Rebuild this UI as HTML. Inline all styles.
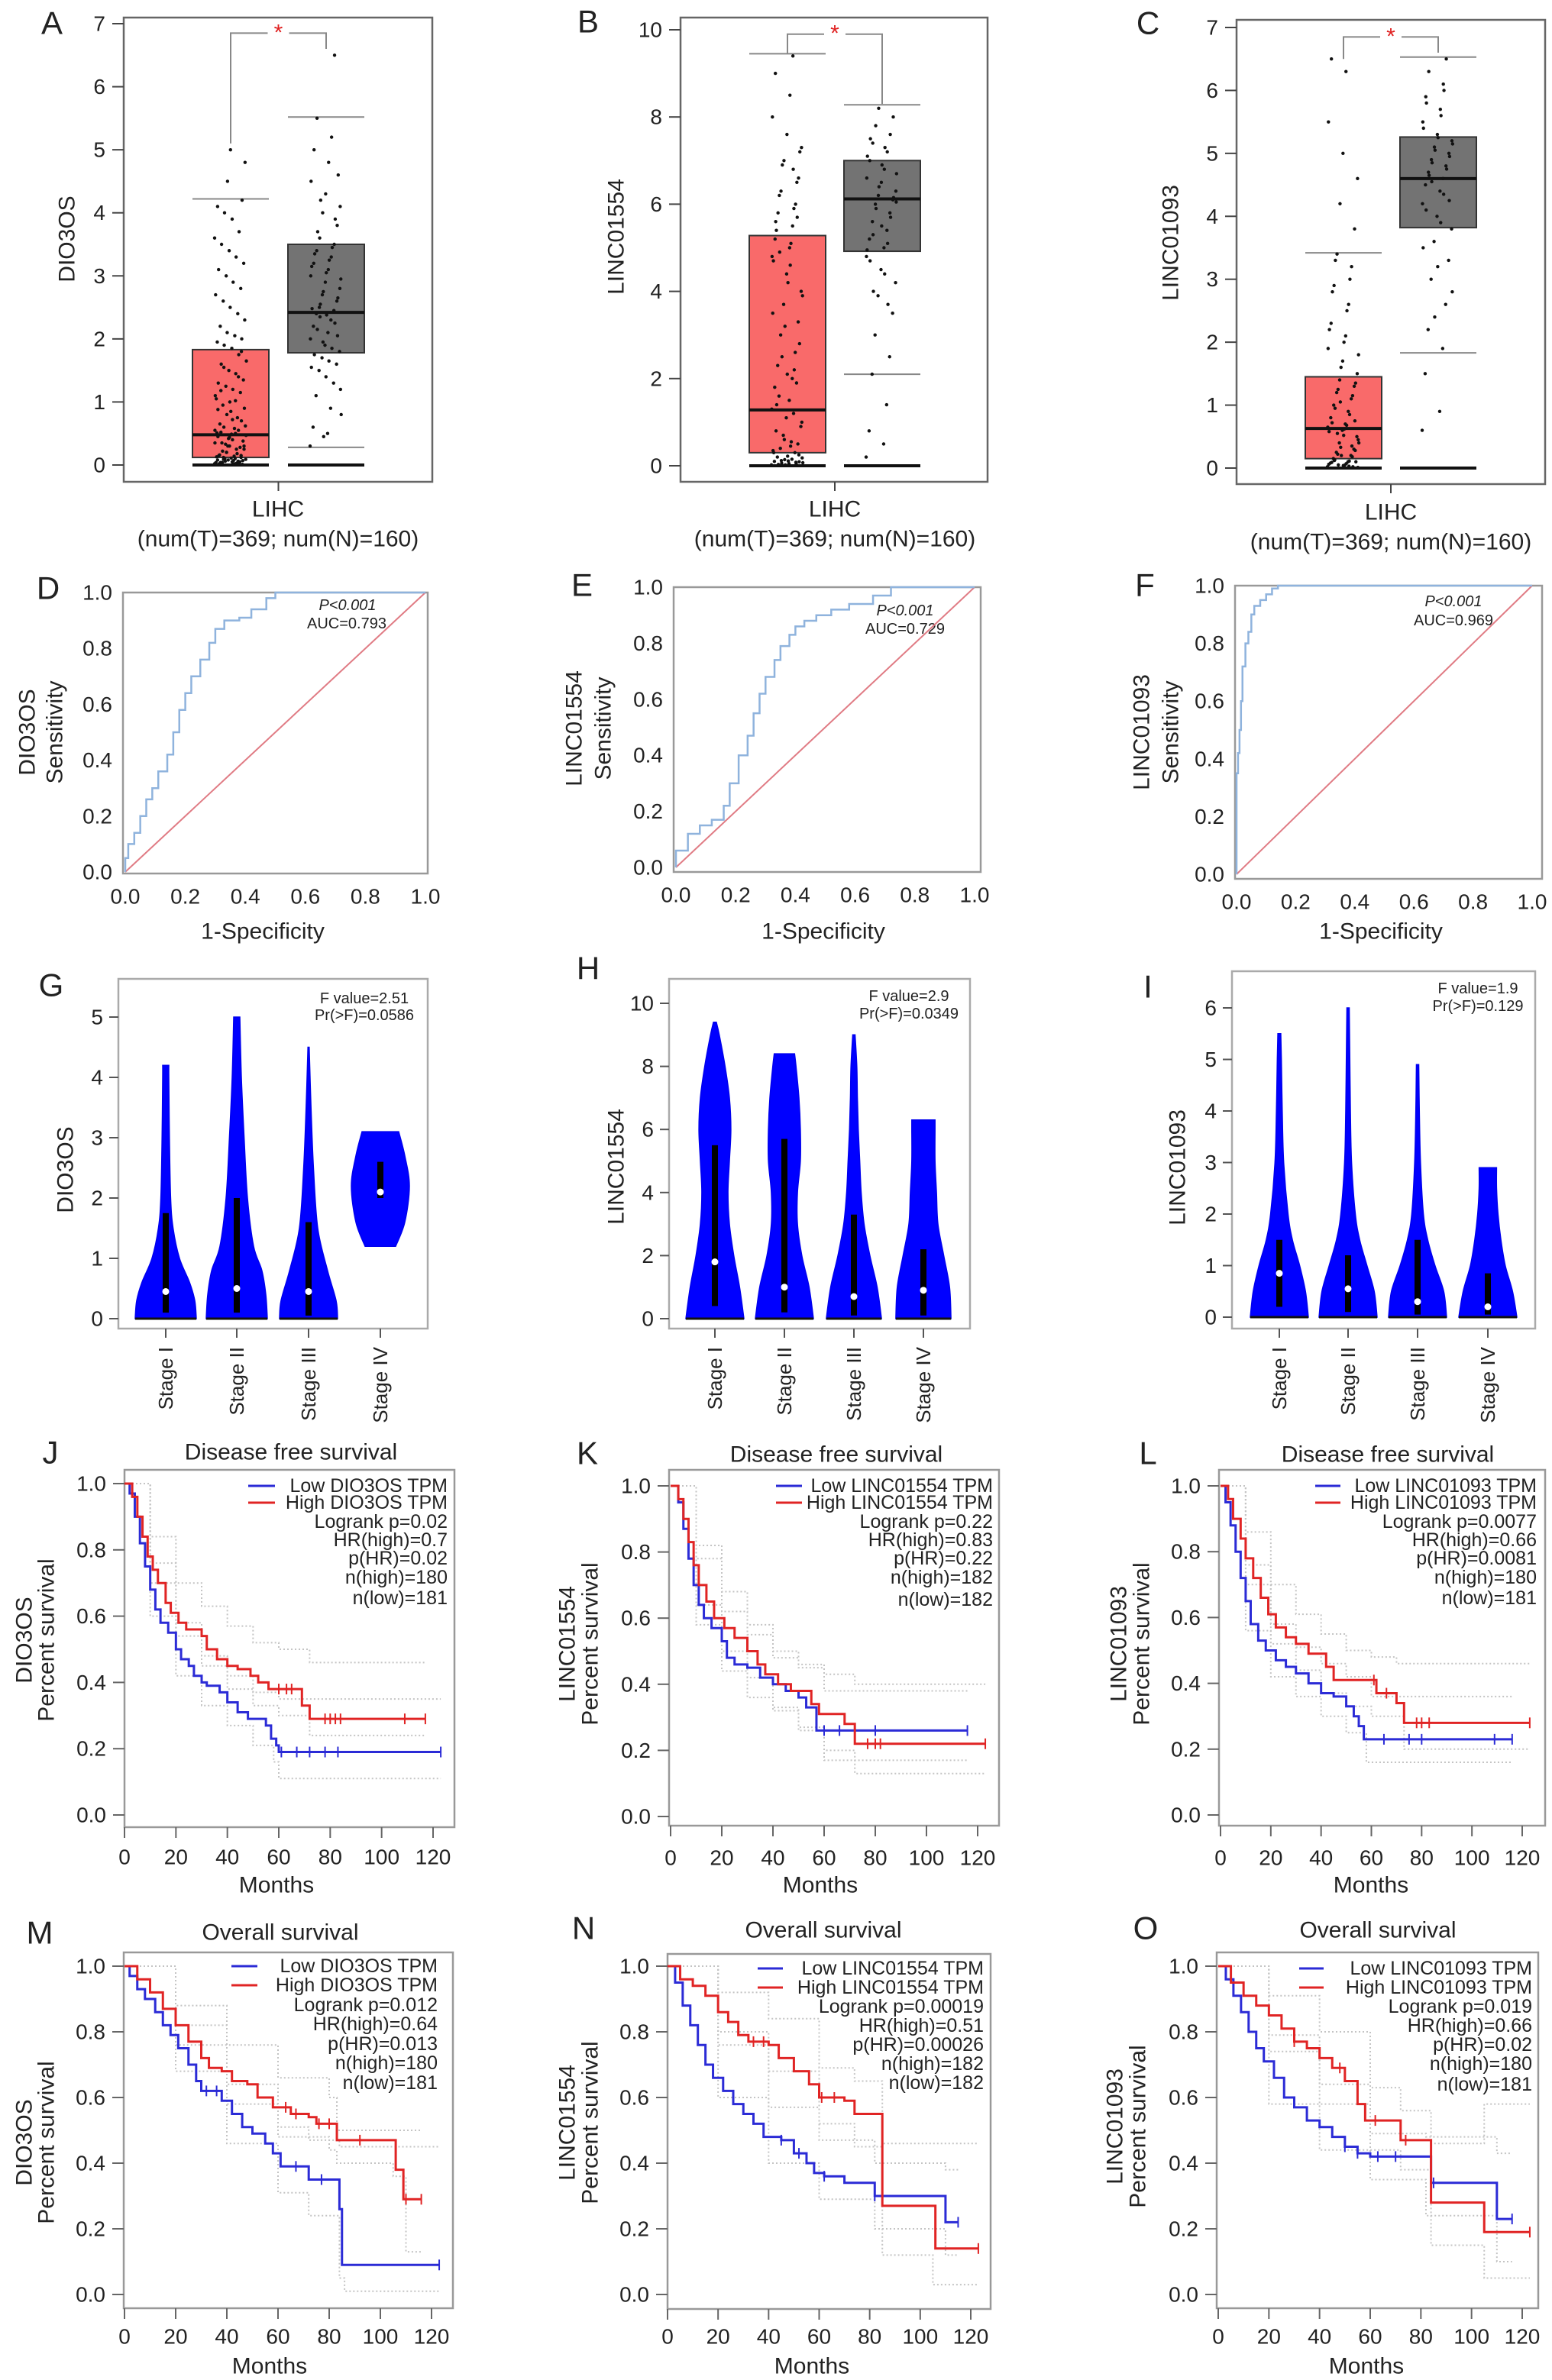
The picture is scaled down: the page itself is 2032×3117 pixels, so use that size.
<!DOCTYPE html>
<html><head><meta charset="utf-8"><title>Expression, ROC, stage and survival figure</title>
<style>
html,body{margin:0;padding:0;background:#fff;}
svg{display:block;font-family:"Liberation Sans",Arial,sans-serif;}
text{fill:#222;}
</style></head>
<body>
<svg id="fig" xmlns="http://www.w3.org/2000/svg" width="2032" height="3117" viewBox="0 0 2032 3117">
<rect x="0" y="0" width="2032" height="3117" fill="#fff"/>
<g font-size="42" text-anchor="middle" dominant-baseline="central">
<text x="68" y="30">A</text>
<text x="770" y="28">B</text>
<text x="1503" y="30">C</text>
<text x="63" y="770">D</text>
<text x="762" y="766">E</text>
<text x="1499" y="766">F</text>
<text x="67" y="1290">G</text>
<text x="770" y="1268">H</text>
<text x="1503" y="1292">I</text>
<text x="66" y="1902">J</text>
<text x="769" y="1903">K</text>
<text x="1503" y="1903">L</text>
<text x="52" y="2531">M</text>
<text x="764" y="2525">N</text>
<text x="1500" y="2525">O</text>
</g>
<g font-size="30" text-anchor="middle" dominant-baseline="central">
<text transform="translate(88,313) rotate(-90)">DIO3OS</text>
<text transform="translate(807,310) rotate(-90)">LINC01554</text>
<text transform="translate(1533,318) rotate(-90)">LINC01093</text>
<text x="364" y="667">LIHC</text>
<text x="364" y="706">(num(T)=369; num(N)=160)</text>
<text x="1093" y="667">LIHC</text>
<text x="1093" y="706">(num(T)=369; num(N)=160)</text>
<text x="1821" y="671">LIHC</text>
<text x="1821" y="710">(num(T)=369; num(N)=160)</text>
<text transform="translate(36,959) rotate(-90)">DIO3OS</text>
<text transform="translate(72,959) rotate(-90)">Sensitivity</text>
<text transform="translate(752,954) rotate(-90)">LINC01554</text>
<text transform="translate(790,954) rotate(-90)">Sensitivity</text>
<text transform="translate(1495,959) rotate(-90)">LINC01093</text>
<text transform="translate(1533,959) rotate(-90)">Sensitivity</text>
<text x="344" y="1220">1-Specificity</text>
<text x="1078" y="1220">1-Specificity</text>
<text x="1808" y="1220">1-Specificity</text>
<text transform="translate(86,1532) rotate(-90)">DIO3OS</text>
<text transform="translate(807,1528) rotate(-90)">LINC01554</text>
<text transform="translate(1542,1529) rotate(-90)">LINC01093</text>
<text x="381" y="1902">Disease free survival</text>
<text x="1095" y="1905">Disease free survival</text>
<text x="1817" y="1905">Disease free survival</text>
<text x="367" y="2531">Overall survival</text>
<text x="1078" y="2528">Overall survival</text>
<text x="1804" y="2528">Overall survival</text>
<text x="362" y="2469">Months</text>
<text x="1074" y="2469">Months</text>
<text x="1795" y="2469">Months</text>
<text x="353" y="3099">Months</text>
<text x="1063" y="3099">Months</text>
<text x="1789" y="3099">Months</text>
<text transform="translate(32,2148) rotate(-90)">DIO3OS</text>
<text transform="translate(61,2148) rotate(-90)">Percent survival</text>
<text transform="translate(743,2153) rotate(-90)">LINC01554</text>
<text transform="translate(773,2153) rotate(-90)">Percent survival</text>
<text transform="translate(1465,2153) rotate(-90)">LINC01093</text>
<text transform="translate(1495,2153) rotate(-90)">Percent survival</text>
<text transform="translate(32,2806) rotate(-90)">DIO3OS</text>
<text transform="translate(61,2806) rotate(-90)">Percent survival</text>
<text transform="translate(743,2780) rotate(-90)">LINC01554</text>
<text transform="translate(773,2780) rotate(-90)">Percent survival</text>
<text transform="translate(1460,2785) rotate(-90)">LINC01093</text>
<text transform="translate(1490,2785) rotate(-90)">Percent survival</text>
</g>
<g font-size="20" text-anchor="middle" dominant-baseline="central">
<text x="455" y="793" font-style="italic">P&lt;0.001</text>
<text x="454" y="817">AUC=0.793</text>
<text x="1185" y="800" font-style="italic">P&lt;0.001</text>
<text x="1185" y="824">AUC=0.729</text>
<text x="1903" y="788" font-style="italic">P&lt;0.001</text>
<text x="1903" y="813">AUC=0.969</text>
<text x="477" y="1308">F value=2.51</text>
<text x="477" y="1330">Pr(&gt;F)=0.0586</text>
<text x="1190" y="1305">F value=2.9</text>
<text x="1190" y="1328">Pr(&gt;F)=0.0349</text>
<text x="1935" y="1295">F value=1.9</text>
<text x="1935" y="1318">Pr(&gt;F)=0.129</text>
</g>
<g font-size="25" text-anchor="end" dominant-baseline="central">
<g>
<line x1="325" y1="1946" x2="360" y2="1946" stroke="#2b2bd6" stroke-width="3"/><line x1="325" y1="1968" x2="360" y2="1968" stroke="#e02424" stroke-width="3"/>
<text x="586" y="1946">Low DIO3OS TPM</text>
<text x="586" y="1968">High DIO3OS TPM</text>
<text x="586" y="1993">Logrank p=0.02</text><text x="586" y="2017">HR(high)=0.7</text><text x="586" y="2041">p(HR)=0.02</text><text x="586" y="2066">n(high)=180</text><text x="586" y="2093">n(low)=181</text>
</g>
<g>
<line x1="1016" y1="1946" x2="1050" y2="1946" stroke="#2b2bd6" stroke-width="3"/><line x1="1016" y1="1968" x2="1050" y2="1968" stroke="#e02424" stroke-width="3"/>
<text x="1300" y="1946">Low LINC01554 TPM</text>
<text x="1300" y="1968">High LINC01554 TPM</text>
<text x="1300" y="1993">Logrank p=0.22</text><text x="1300" y="2017">HR(high)=0.83</text><text x="1300" y="2041">p(HR)=0.22</text><text x="1300" y="2066">n(high)=182</text><text x="1300" y="2095">n(low)=182</text>
</g>
<g>
<line x1="1722" y1="1946" x2="1755" y2="1946" stroke="#2b2bd6" stroke-width="3"/><line x1="1722" y1="1968" x2="1755" y2="1968" stroke="#e02424" stroke-width="3"/>
<text x="2012" y="1946">Low LINC01093 TPM</text>
<text x="2012" y="1968">High LINC01093 TPM</text>
<text x="2012" y="1993">Logrank p=0.0077</text><text x="2012" y="2017">HR(high)=0.66</text><text x="2012" y="2041">p(HR)=0.0081</text><text x="2012" y="2066">n(high)=180</text><text x="2012" y="2093">n(low)=181</text>
</g>
<g>
<line x1="303" y1="2575" x2="337" y2="2575" stroke="#2b2bd6" stroke-width="3"/><line x1="303" y1="2600" x2="337" y2="2600" stroke="#e02424" stroke-width="3"/>
<text x="573" y="2575">Low DIO3OS TPM</text>
<text x="573" y="2600">High DIO3OS TPM</text>
<text x="573" y="2626">Logrank p=0.012</text><text x="573" y="2651">HR(high)=0.64</text><text x="573" y="2677">p(HR)=0.013</text><text x="573" y="2702">n(high)=180</text><text x="573" y="2728">n(low)=181</text>
</g>
<g>
<line x1="992" y1="2578" x2="1025" y2="2578" stroke="#2b2bd6" stroke-width="3"/><line x1="992" y1="2603" x2="1025" y2="2603" stroke="#e02424" stroke-width="3"/>
<text x="1288" y="2578">Low LINC01554 TPM</text>
<text x="1288" y="2603">High LINC01554 TPM</text>
<text x="1288" y="2628">Logrank p=0.00019</text><text x="1288" y="2653">HR(high)=0.51</text><text x="1288" y="2678">p(HR)=0.00026</text><text x="1288" y="2703">n(high)=182</text><text x="1288" y="2728">n(low)=182</text>
</g>
<g>
<line x1="1701" y1="2578" x2="1733" y2="2578" stroke="#2b2bd6" stroke-width="3"/><line x1="1701" y1="2603" x2="1733" y2="2603" stroke="#e02424" stroke-width="3"/>
<text x="2006" y="2578">Low LINC01093 TPM</text>
<text x="2006" y="2603">High LINC01093 TPM</text>
<text x="2006" y="2628">Logrank p=0.019</text><text x="2006" y="2653">HR(high)=0.66</text><text x="2006" y="2678">p(HR)=0.02</text><text x="2006" y="2703">n(high)=180</text><text x="2006" y="2730">n(low)=181</text>
</g>
</g>
</svg>
<script>
// ===== Box plot data: [lowerWhisker, q1, median, q3, upperWhisker] =====
const boxCategories = ['Tumor', 'Normal'];
const boxATumor = [0, 0.12, 0.48, 1.83, 4.22];
const boxANormal = [0.28, 1.78, 2.42, 3.5, 5.52];
const boxBTumor = [0, 0.3, 1.28, 5.28, 9.45];
const boxBNormal = [2.1, 4.92, 6.12, 7.0, 8.28];
const boxCTumor = [0, 0.15, 0.63, 1.45, 3.42];
const boxCNormal = [1.83, 3.82, 4.6, 5.26, 6.53];
const dotsATumor = [0.02,0.05,0.08,0.1,0.03,0.06,0.12,0.15,0.2,0.25,0.3,0.35,0.4,0.45,0.5,0.52,0.55,0.6,0.7,0.8,0.9,1.0,1.1,1.2,1.3,1.45,1.6,1.75,1.9,2.0,2.1,2.3,2.5,2.7,2.9,3.1,3.3,3.5,3.7,4.0,4.2,4.5,4.8,5.0,0.04,0.07,0.15,0.25,0.35,0.02,0.1,0.01,0.3,0.62,0.85,1.05,
  0.01,0.02,0.03,0.04,0.05,0.06,0.07,0.08,0.09,0.11,0.13,0.14,0.16,0.18,0.22,0.28,0.33,0.38,0.42,0.47,0.49,0.51,0.58,0.65,0.75,0.95,1.15,1.25,1.35,1.5,1.65,1.85,1.95,2.05,2.2,2.4,2.6,2.8,3.0,3.2,3.4,3.6,3.9,4.1,0.02,0.04,0.06,0.09,0.12,0.2,0.3,0.44,0.55,0.72,0.88,1.02,1.18,1.4,1.55,1.8];
const dotsANormal = [0.3,0.5,0.6,0.9,1.1,1.3,1.5,1.6,1.7,1.8,1.9,2.0,2.1,2.2,2.3,2.4,2.45,2.5,2.6,2.7,2.8,2.9,3.0,3.1,3.2,3.3,3.4,3.5,3.6,3.8,4.0,4.1,4.3,4.5,4.8,5.0,5.2,5.5,6.5,2.35,2.05,1.95,
  1.2,1.4,1.55,1.65,1.75,1.85,2.15,2.25,2.55,2.65,2.75,2.95,3.05,3.15,3.25,3.35,3.45,3.7,3.9,4.2,4.6,0.45,0.8,2.38,2.48];
const dotsBTumor = [0.02,0.05,0.1,0.15,0.2,0.3,0.4,0.5,0.7,0.9,1.1,1.3,1.5,1.8,2.0,2.3,2.6,3.0,3.3,3.7,4.0,4.4,4.8,5.0,5.2,5.5,5.8,6.0,6.3,6.6,7.0,7.3,7.6,8.0,8.5,9.0,9.4,0.03,0.08,0.12,0.25,0.6,1.0,2.1,3.5,4.6,5.6,6.8,
  0.01,0.04,0.06,0.09,0.14,0.18,0.22,0.35,0.45,0.8,1.2,1.6,1.9,2.5,2.8,3.2,3.9,4.2,4.7,5.1,5.4,5.9,6.2,6.5,6.9,7.2,0.02,0.07,0.11,0.3,0.55,1.4,2.2,4.9,5.7];
const dotsBNormal = [0.2,0.5,0.8,1.4,2.1,2.5,3.0,3.5,3.9,4.2,4.5,4.8,5.0,5.2,5.4,5.6,5.8,6.0,6.1,6.2,6.3,6.5,6.6,6.8,7.0,7.2,7.4,7.6,7.8,8.0,8.2,6.05,5.5,4.95,
  4.4,4.7,5.1,5.3,5.7,5.9,6.15,6.4,6.7,6.9,7.1,7.3,7.5,3.7,4.0];
const dotsCTumor = [0.02,0.05,0.08,0.1,0.15,0.2,0.25,0.3,0.4,0.5,0.6,0.65,0.7,0.8,0.9,1.0,1.1,1.2,1.3,1.4,1.5,1.7,1.9,2.1,2.3,2.6,2.9,3.2,3.4,3.8,4.2,4.6,5.0,5.5,6.3,6.5,0.03,0.12,0.35,0.55,0.75,1.05,
  0.01,0.04,0.06,0.07,0.09,0.11,0.13,0.18,0.22,0.28,0.33,0.45,0.52,0.58,0.68,0.72,0.85,0.95,1.15,1.25,1.35,1.6,1.8,2.0,2.2,2.5,2.8,3.0,3.3,0.02,0.05,0.1,0.2,0.4,0.62];
const dotsCNormal = [0.6,0.9,1.5,1.9,2.2,2.6,3.0,3.3,3.6,3.8,4.0,4.2,4.4,4.5,4.6,4.7,4.8,4.9,5.0,5.1,5.2,5.3,5.5,5.7,5.9,6.1,6.3,6.5,4.55,4.25,
  2.4,2.8,3.2,3.5,3.9,4.1,4.35,4.65,4.75,4.85,4.95,5.05,5.15,5.25,5.4,5.6,5.8,6.0];
const boxATicks = [0,1,2,3,4,5,6,7];
const boxBTicks = [0,2,4,6,8,10];
const boxCTicks = [0,1,2,3,4,5,6,7];

// ===== ROC data =====
const rocDFpr = [0,0.01,0.03,0.05,0.07,0.09,0.11,0.14,0.16,0.18,0.2,0.22,0.25,0.28,0.3,0.33,0.38,0.42,0.47,0.5,0.62,1];
const rocDTpr = [0,0.05,0.1,0.14,0.2,0.26,0.3,0.36,0.42,0.5,0.58,0.64,0.7,0.76,0.82,0.87,0.9,0.91,0.94,0.98,1,1];
const rocEFpr = [0,0.04,0.08,0.12,0.16,0.18,0.21,0.24,0.26,0.28,0.3,0.33,0.35,0.38,0.4,0.43,0.47,0.52,0.58,0.66,0.72,0.76,1];
const rocETpr = [0,0.06,0.12,0.15,0.17,0.22,0.3,0.4,0.47,0.55,0.62,0.68,0.74,0.79,0.83,0.86,0.88,0.9,0.92,0.94,0.97,1,1];
const rocFFpr = [0,0.005,0.01,0.015,0.02,0.03,0.04,0.05,0.06,0.08,0.1,0.12,0.14,0.15,1];
const rocFTpr = [0,0.35,0.42,0.5,0.6,0.72,0.8,0.84,0.9,0.93,0.95,0.97,0.99,1,1];
const rocTicks = [0,0.2,0.4,0.6,0.8,1.0];
const rocTickLabels = ['0.0','0.2','0.4','0.6','0.8','1.0'];

// ===== Violin data: [value, relative density] =====
const stageLabels = ['Stage I','Stage II','Stage III','Stage IV'];
const violinG = [
  [[0,1.0],[0.3,0.95],[0.6,0.78],[1,0.45],[1.5,0.24],[2,0.16],[3,0.12],[4,0.1],[4.2,0.1]],
  [[0,1.0],[0.4,0.95],[0.8,0.82],[1.2,0.55],[2,0.35],[3,0.24],[4,0.15],[5,0.1]],
  [[0,0.95],[0.3,0.9],[0.8,0.62],[1.5,0.3],[2.5,0.16],[3.5,0.08],[4.5,0.02]],
  [[1.2,0.5],[1.6,0.8],[2.2,0.95],[2.7,0.8],[3.1,0.6]]
];
const violinGMedian = [0.45,0.5,0.45,2.1];
const violinGQ1 = [0.1,0.1,0.05,2.0];
const violinGQ3 = [1.75,2.0,1.6,2.6];
const violinH = [
  [[0,1.0],[1,0.85],[2,0.65],[3,0.5],[4,0.45],[5,0.5],[6,0.55],[7,0.5],[8,0.35],[9,0.15],[9.4,0.05]],
  [[0,1.0],[1,0.85],[2,0.6],[3,0.45],[4,0.45],[5,0.55],[6,0.55],[7,0.5],[8,0.4],[8.4,0.35]],
  [[0,0.95],[1,0.8],[2,0.55],[3,0.35],[4,0.25],[5,0.2],[6,0.15],[7,0.12],[8,0.1],[9,0.04]],
  [[0,0.95],[1,0.9],[2,0.7],[3,0.5],[4,0.45],[5,0.4],[6,0.4],[6.3,0.4]]
];
const violinHMedian = [1.8,1.0,0.7,0.9];
const violinHQ1 = [0.4,0.2,0.1,0.1];
const violinHQ3 = [5.5,5.7,3.3,2.2];
const violinI = [
  [[0,1.0],[0.5,0.9],[1,0.7],[1.5,0.45],[2,0.3],[3,0.15],[4,0.1],[5,0.07],[5.5,0.05]],
  [[0,1.0],[0.5,0.9],[1,0.65],[1.5,0.4],[2,0.25],[3,0.12],[4,0.08],[5,0.06],[6,0.04]],
  [[0,1.0],[0.5,0.9],[1,0.6],[1.5,0.35],[2,0.2],[3,0.1],[4,0.06],[4.9,0.04]],
  [[0,1.0],[0.5,0.85],[1,0.6],[1.5,0.45],[2,0.35],[2.5,0.3],[2.9,0.3]]
];
const violinIMedian = [0.85,0.55,0.3,0.2];
const violinIQ1 = [0.2,0.1,0.05,0.05];
const violinIQ3 = [1.5,1.2,1.5,0.85];
const violinGTicks = [0,1,2,3,4,5];
const violinHTicks = [0,2,4,6,8,10];
const violinITicks = [0,1,2,3,4,5,6];

// ===== Kaplan-Meier data: [months, survival] =====
const kmXTicks = [0,20,40,60,80,100,120];
const kmYTicks = [0,0.2,0.4,0.6,0.8,1.0];
const kmYTickLabels = ['0.0','0.2','0.4','0.6','0.8','1.0'];
const kmJLow = [[0,1],[2,0.97],[4,0.9],[6,0.82],[8,0.75],[10,0.68],[12,0.62],[14,0.58],[17,0.55],[20,0.5],[22,0.47],[25,0.45],[27,0.42],[30,0.4],[32,0.39],[37,0.37],[40,0.34],[44,0.31],[48,0.29],[55,0.27],[57,0.23],[59,0.21],[60,0.19],[123,0.19]];
const kmJHigh = [[0,1],[3,0.96],[5,0.9],[7,0.84],[9,0.78],[11,0.74],[13,0.7],[16,0.64],[18,0.61],[21,0.58],[24,0.56],[30,0.54],[32,0.5],[36,0.47],[40,0.45],[44,0.44],[49,0.42],[52,0.4],[56,0.38],[69,0.33],[72,0.29],[117,0.29]];
const kmJCI = [
  [[0,1],[10,0.84],[20,0.7],[30,0.63],[40,0.57],[50,0.52],[60,0.5],[72,0.46],[117,0.46]],
  [[0,1],[10,0.7],[20,0.54],[30,0.45],[40,0.38],[50,0.33],[60,0.3],[72,0.24],[117,0.24]],
  [[0,1],[10,0.76],[20,0.58],[30,0.48],[40,0.42],[50,0.37],[60,0.35],[123,0.35]],
  [[0,1],[10,0.6],[20,0.42],[30,0.33],[40,0.27],[50,0.21],[58,0.16],[60,0.11],[123,0.11]]
];
const kmKLow = [[0,1],[3,0.95],[5,0.87],[7,0.78],[9,0.7],[11,0.64],[13,0.6],[16,0.57],[20,0.53],[22,0.48],[25,0.46],[30,0.45],[35,0.42],[40,0.4],[45,0.38],[50,0.36],[53,0.33],[57,0.26],[116,0.26]];
const kmKHigh = [[0,1],[3,0.96],[5,0.9],[7,0.83],[9,0.76],[11,0.7],[14,0.65],[17,0.6],[21,0.57],[25,0.54],[30,0.5],[34,0.46],[37,0.43],[42,0.4],[47,0.38],[55,0.34],[58,0.31],[68,0.28],[72,0.22],[123,0.22]];
const kmKCI = [
  [[0,1],[10,0.82],[20,0.68],[30,0.58],[40,0.5],[50,0.46],[60,0.43],[72,0.4],[123,0.4]],
  [[0,1],[10,0.64],[20,0.5],[30,0.42],[40,0.33],[50,0.27],[60,0.2],[72,0.13],[123,0.13]],
  [[0,1],[10,0.78],[20,0.62],[30,0.55],[40,0.48],[50,0.45],[60,0.38],[116,0.38]],
  [[0,1],[10,0.58],[20,0.44],[30,0.36],[40,0.32],[50,0.26],[60,0.17],[116,0.17]]
];
const kmLLow = [[0,1],[2,0.95],[4,0.88],[6,0.8],[8,0.72],[10,0.65],[12,0.58],[15,0.53],[18,0.5],[22,0.47],[26,0.45],[30,0.43],[35,0.4],[40,0.37],[45,0.36],[50,0.33],[53,0.3],[55,0.27],[57,0.23],[116,0.23]];
const kmLHigh = [[0,1],[3,0.96],[5,0.9],[8,0.84],[10,0.78],[13,0.72],[16,0.66],[19,0.61],[22,0.57],[26,0.54],[30,0.52],[35,0.49],[42,0.45],[45,0.41],[60,0.41],[62,0.37],[70,0.34],[73,0.28],[123,0.28]];
const kmLCI = [
  [[0,1],[10,0.86],[20,0.7],[30,0.61],[40,0.55],[50,0.5],[60,0.48],[70,0.46],[123,0.46]],
  [[0,1],[10,0.7],[20,0.52],[30,0.44],[40,0.37],[50,0.33],[60,0.3],[73,0.2],[123,0.2]],
  [[0,1],[10,0.76],[20,0.58],[30,0.51],[40,0.46],[50,0.42],[60,0.36],[116,0.36]],
  [[0,1],[10,0.56],[20,0.42],[30,0.36],[40,0.3],[50,0.25],[58,0.16],[116,0.16]]
];
const kmMLow = [[0,1],[2,0.97],[5,0.93],[8,0.9],[12,0.86],[15,0.82],[18,0.79],[21,0.75],[25,0.7],[28,0.65],[30,0.62],[35,0.62],[38,0.59],[42,0.55],[46,0.51],[50,0.49],[55,0.46],[58,0.43],[61,0.39],[72,0.35],[83,0.35],[84,0.26],[85,0.09],[123,0.09]];
const kmMHigh = [[0,1],[5,0.96],[10,0.92],[15,0.87],[20,0.82],[25,0.77],[30,0.72],[33,0.69],[38,0.68],[42,0.65],[48,0.64],[52,0.6],[58,0.57],[65,0.55],[72,0.54],[75,0.52],[82,0.52],[83,0.47],[105,0.47],[106,0.38],[109,0.29],[116,0.29]];
const kmMCI = [
  [[0,1],[20,0.88],[40,0.76],[60,0.66],[80,0.6],[83,0.5],[116,0.5]],
  [[0,1],[20,0.76],[40,0.58],[60,0.48],[80,0.44],[83,0.4],[105,0.36],[110,0.13],[116,0.13]],
  [[0,1],[20,0.82],[40,0.64],[60,0.51],[72,0.47],[84,0.45],[123,0.45]],
  [[0,1],[20,0.68],[40,0.46],[60,0.31],[72,0.24],[84,0.05],[86,0.01],[123,0.01]]
];
const kmNLow = [[0,1],[3,0.95],[6,0.88],[9,0.82],[12,0.76],[15,0.7],[18,0.66],[22,0.62],[26,0.58],[30,0.55],[34,0.52],[38,0.48],[45,0.47],[50,0.43],[55,0.4],[58,0.37],[62,0.36],[70,0.34],[78,0.34],[82,0.3],[109,0.3],[110,0.22],[115,0.22]];
const kmNHigh = [[0,1],[5,0.96],[10,0.94],[15,0.91],[20,0.86],[24,0.83],[28,0.79],[32,0.77],[40,0.76],[44,0.72],[50,0.68],[56,0.64],[60,0.6],[70,0.59],[74,0.55],[83,0.55],[85,0.27],[105,0.27],[106,0.14],[123,0.14]];
const kmNCI = [
  [[0,1],[20,0.92],[40,0.84],[60,0.69],[74,0.65],[85,0.46],[123,0.46]],
  [[0,1],[20,0.8],[40,0.68],[60,0.52],[74,0.45],[85,0.12],[105,0.03],[123,0.03]],
  [[0,1],[20,0.76],[40,0.57],[60,0.47],[82,0.4],[110,0.38],[115,0.38]],
  [[0,1],[20,0.6],[40,0.4],[60,0.29],[82,0.2],[110,0.12],[115,0.12]]
];
const kmOLow = [[0,1],[3,0.96],[6,0.91],[9,0.86],[12,0.8],[15,0.75],[18,0.71],[22,0.66],[26,0.6],[30,0.57],[35,0.53],[40,0.51],[45,0.48],[50,0.45],[55,0.43],[60,0.42],[82,0.42],[84,0.34],[108,0.34],[110,0.23],[116,0.23]];
const kmOHigh = [[0,1],[5,0.95],[10,0.91],[15,0.88],[20,0.85],[25,0.81],[30,0.77],[35,0.75],[40,0.72],[45,0.69],[50,0.65],[55,0.58],[58,0.53],[70,0.53],[72,0.47],[80,0.47],[84,0.28],[104,0.28],[105,0.19],[123,0.19]];
const kmOCI = [
  [[0,1],[20,0.91],[40,0.8],[60,0.63],[72,0.56],[84,0.46],[105,0.58],[123,0.58]],
  [[0,1],[20,0.79],[40,0.64],[60,0.44],[72,0.38],[84,0.15],[105,0.05],[123,0.05]],
  [[0,1],[20,0.74],[40,0.58],[60,0.49],[82,0.48],[110,0.43],[116,0.43]],
  [[0,1],[20,0.58],[40,0.44],[60,0.35],[82,0.24],[110,0.1],[116,0.1]]
];
const kmJLowCensor = [61,67,72,78,83,123];
const kmJHighCensor = [60,63,65,78,80,82,84,109,117];
const kmKLowCensor = [60,66,80,116];
const kmKHighCensor = [77,80,82,123];
const kmLLowCensor = [65,75,80,109,116];
const kmLHighCensor = [61,66,78,80,83,123];
const kmMLowCensor = [32,36,67,77,123];
const kmMHighCensor = [63,67,76,80,92,110,116];
const kmNLowCensor = [45,52,62,82,115];
const kmNHighCensor = [34,38,61,66,123];
const kmOLowCensor = [50,55,63,70,85,116];
const kmOHighCensor = [30,48,62,74,123];

const NS = 'http://www.w3.org/2000/svg';
const svg = document.getElementById('fig');
function mk(tag, attrs, parent) {
  const e = document.createElementNS(NS, tag);
  for (const k in attrs) e.setAttribute(k, attrs[k]);
  (parent || svg).appendChild(e);
  return e;
}
function lin(d0, d1, r0, r1) { return v => r0 + (v - d0) * (r1 - r0) / (d1 - d0); }

function drawBoxPanel(p) {
  const g = mk('g', {});
  
  
  const y = lin(0, p.vmax, p.y0, p.yTop);
  const frame = mk('rect', {x:p.fx0, y:p.fy0, width:p.fx1-p.fx0, height:p.fy1-p.fy0, fill:'none', stroke:'#666', 'stroke-width':2.5}, g);
  
  
  p.ticks.forEach(t => {
    mk('line', {x1:p.fx0-15, x2:p.fx0, y1:y(t), y2:y(t), stroke:'#444', 'stroke-width':2}, g);
    const tl = mk('text', {x:p.fx0-24, y:y(t), 'font-size':28, 'text-anchor':'end', 'dominant-baseline':'central'}, g);
    tl.textContent = t;
    
    
  });
  const cx = (p.cx[0] + p.cx[1]) / 2;
  mk('line', {x1:cx, x2:cx, y1:p.fy1, y2:p.fy1+12, stroke:'#444', 'stroke-width':2}, g);
  [p.tumor, p.normal].forEach((s, i) => {
    const c = p.cx[i], w = p.w;
    const bg = mk('g', {}, g);
    
    
    mk('line', {x1:c-w/2, x2:c+w/2, y1:y(0), y2:y(0), stroke:'#111', 'stroke-width':4}, bg);
    mk('rect', {x:c-w/2, y:y(s[3]), width:w, height:y(s[1])-y(s[3]), fill:i===0?'#f96a6a':'#737373', stroke:'#333', 'stroke-width':2}, bg);
    mk('line', {x1:c-w/2, x2:c+w/2, y1:y(s[2]), y2:y(s[2]), stroke:'#111', 'stroke-width':4}, bg);
    mk('line', {x1:c-w/2, x2:c+w/2, y1:y(s[4]), y2:y(s[4]), stroke:'#888', 'stroke-width':2}, bg);
    if (s[0] > 0) mk('line', {x1:c-w/2, x2:c+w/2, y1:y(s[0]), y2:y(s[0]), stroke:'#888', 'stroke-width':2}, bg);
    const dots = i === 0 ? p.tumorDots : p.normalDots;
    dots.forEach((v, k) => {
      const jx = c + (((k * 53) % 97) / 97 - 0.5) * w * 0.42;
      const d = mk('circle', {cx:jx, cy:y(v), r:2.2, fill:'#111'}, bg);
      
      
    });
  });
  const by = y(p.bracket[0]);
  const br = mk('path', {d:`M${p.cx[0]},${y(p.bracket[1])}V${by}H${p.cx[1]}V${y(p.bracket[2])}`, fill:'none', stroke:'#888', 'stroke-width':2}, g);
  
  
  mk('rect', {x:cx-14, y:by-6, width:28, height:12, fill:'#fff'}, g);
  const st = mk('text', {x:cx, y:by+9, 'font-size':30, 'text-anchor':'middle', fill:'#e02020', style:'fill:#e02020'}, g);
  st.textContent = '*';
  
  
}

function drawRoc(p) {
  const g = mk('g', {});
  
  
  const x = lin(0, 1, p.x0, p.x1), y = lin(0, 1, p.y0, p.y1);
  const fr = mk('rect', {x:p.fx0, y:p.fy0, width:p.fx1-p.fx0, height:p.fy1-p.fy0, fill:'none', stroke:'#999', 'stroke-width':2.5}, g);
  
  
  rocTicks.forEach((t, i) => {
    const yl = mk('text', {x:p.fx0-14, y:y(t), 'font-size':28, 'text-anchor':'end', 'dominant-baseline':'central'}, g);
    yl.textContent = rocTickLabels[i];
    
    
    const xl = mk('text', {x:x(t), y:p.fy1+30, 'font-size':28, 'text-anchor':'middle', 'dominant-baseline':'central'}, g);
    xl.textContent = rocTickLabels[i];
    
    
  });
  const dg = mk('line', {x1:x(0), y1:y(0), x2:x(1), y2:y(1), stroke:'#e07b84', 'stroke-width':2}, g);
  
  
  let d = `M${x(p.fpr[0])},${y(p.tpr[0])}`;
  for (let i = 1; i < p.fpr.length; i++) d += `V${y(p.tpr[i])}H${x(p.fpr[i])}`;
  const c = mk('path', {d, fill:'none', stroke:'#8fb3dd', 'stroke-width':2.5}, g);
  
  
}

function smooth(pts, start) {
  // Catmull-Rom through pts; returns path segment
  let d = (start ? 'M' : 'L') + pts[0][0] + ',' + pts[0][1];
  for (let i = 0; i < pts.length - 1; i++) {
    const p0 = pts[Math.max(0, i-1)], p1 = pts[i], p2 = pts[i+1], p3 = pts[Math.min(pts.length-1, i+2)];
    const c1x = p1[0] + (p2[0]-p0[0])/6, c1y = p1[1] + (p2[1]-p0[1])/6;
    const c2x = p2[0] - (p3[0]-p1[0])/6, c2y = p2[1] - (p3[1]-p1[1])/6;
    d += `C${c1x},${c1y} ${c2x},${c2y} ${p2[0]},${p2[1]}`;
  }
  return d;
}

function drawViolin(p) {
  const g = mk('g', {});
  
  
  const y = lin(0, 1, p.y0, p.y0 - p.k);
  const fr = mk('rect', {x:p.fx0, y:p.fy0, width:p.fx1-p.fx0, height:p.fy1-p.fy0, fill:'none', stroke:'#aaa', 'stroke-width':2.5}, g);
  
  
  p.ticks.forEach(t => {
    mk('line', {x1:p.fx0-12, x2:p.fx0, y1:y(t), y2:y(t), stroke:'#555', 'stroke-width':2}, g);
    const tl = mk('text', {x:p.fx0-20, y:y(t), 'font-size':28, 'text-anchor':'end', 'dominant-baseline':'central'}, g);
    tl.textContent = t;
    
    
  });
  p.data.forEach((prof, i) => {
    const c = p.cx[i];
    mk('line', {x1:c, x2:c, y1:p.fy1, y2:p.fy1+12, stroke:'#555', 'stroke-width':2}, g);
    const sl = mk('text', {transform:`translate(${c},${p.fy1+24}) rotate(-90)`, 'font-size':26, 'text-anchor':'end', 'dominant-baseline':'central'}, g);
    sl.textContent = stageLabels[i];
    
    
    const rightPts = prof.map(pt => [c + pt[1]*p.hw, y(pt[0])]);
    const leftPts = prof.slice().reverse().map(pt => [c - pt[1]*p.hw, y(pt[0])]);
    const v = mk('path', {d:smooth(rightPts, true) + smooth(leftPts, false) + 'Z', fill:'#0000ff', stroke:'#0000ee', 'stroke-width':1.5}, g);
    
    
    if (prof[0][0] === 0) mk('line', {x1:c-prof[0][1]*p.hw, x2:c+prof[0][1]*p.hw, y1:y(0), y2:y(0), stroke:'#111', 'stroke-width':3}, g);
    mk('rect', {x:c-4, y:y(p.q3[i]), width:8, height:y(p.q1[i])-y(p.q3[i]), fill:'#000'}, g);
    const m = mk('circle', {cx:c, cy:y(p.med[i]), r:4.5, fill:'#fff'}, g);
    
    
  });
}

function stepPath(pts, x, y) {
  let d = `M${x(pts[0][0])},${y(pts[0][1])}`;
  for (let i = 1; i < pts.length; i++) d += `H${x(pts[i][0])}V${y(pts[i][1])}`;
  return d;
}
function survAt(pts, t) { let s = pts[0][1]; pts.forEach(p => { if (p[0] <= t) s = p[1]; }); return s; }

function drawKM(p) {
  const g = mk('g', {});
  
  
  const x = lin(0, 120, p.x0, p.x120), y = lin(0, 1, p.y0, p.y1);
  const fr = mk('rect', {x:p.fx0, y:p.fy0, width:p.fx1-p.fx0, height:p.fy1-p.fy0, fill:'none', stroke:'#999', 'stroke-width':2.5}, g);
  
  
  kmYTicks.forEach((t, i) => {
    mk('line', {x1:p.fx0-15, x2:p.fx0, y1:y(t), y2:y(t), stroke:'#666', 'stroke-width':2}, g);
    const tl = mk('text', {x:p.fx0-24, y:y(t), 'font-size':28, 'text-anchor':'end', 'dominant-baseline':'central'}, g);
    tl.textContent = kmYTickLabels[i];
    
    
  });
  kmXTicks.forEach(t => {
    mk('line', {x1:x(t), x2:x(t), y1:p.fy1, y2:p.fy1+14, stroke:'#666', 'stroke-width':2}, g);
    const tl = mk('text', {x:x(t), y:p.xlab, 'font-size':28, 'text-anchor':'middle', 'dominant-baseline':'central'}, g);
    tl.textContent = t;
    
    
  });
  p.ci.forEach(ln => {
    const c = mk('path', {d:stepPath(ln, x, y), fill:'none', stroke:'#c4c4c4', 'stroke-width':2, 'stroke-dasharray':'2 3'}, g);
    
    
  });
  [[p.low, '#2b2bd6', p.lowC, 'low'], [p.high, '#e02424', p.highC, 'high']].forEach(s => {
    const c = mk('path', {d:stepPath(s[0], x, y), fill:'none', stroke:s[1], 'stroke-width':3}, g);
    
    
    s[2].forEach(t => {
      const yy = y(survAt(s[0], t));
      const m = mk('line', {x1:x(t), x2:x(t), y1:yy-7, y2:yy+7, stroke:s[1], 'stroke-width':2}, g);
      
      
    });
  });
}

drawBoxPanel({name:'boxplot-dio3os', fx0:162, fx1:566, fy0:23, fy1:631, y0:609, yTop:31, vmax:7, ticks:boxATicks, cx:[302,427], w:100, tumor:boxATumor, normal:boxANormal, tumorDots:dotsATumor, normalDots:dotsANormal, bracket:[6.85,5.1,6.6]});
drawBoxPanel({name:'boxplot-linc01554', fx0:891, fx1:1293, fy0:23, fy1:631, y0:610, yTop:39, vmax:10, ticks:boxBTicks, cx:[1031,1155], w:100, tumor:boxBTumor, normal:boxBNormal, tumorDots:dotsBTumor, normalDots:dotsBNormal, bracket:[9.9,9.45,8.3]});
drawBoxPanel({name:'boxplot-linc01093', fx0:1619, fx1:2023, fy0:26, fy1:634, y0:613, yTop:36, vmax:7, ticks:boxCTicks, cx:[1759,1883], w:100, tumor:boxCTumor, normal:boxCNormal, tumorDots:dotsCTumor, normalDots:dotsCNormal, bracket:[6.85,6.5,6.6]});

drawRoc({name:'roc-dio3os', fx0:161, fx1:560, fy0:776, fy1:1144, x0:164, x1:557, y0:1142, y1:776, fpr:rocDFpr, tpr:rocDTpr});
drawRoc({name:'roc-linc01554', fx0:882, fx1:1284, fy0:769, fy1:1142, x0:885, x1:1276, y0:1136, y1:769, fpr:rocEFpr, tpr:rocETpr});
drawRoc({name:'roc-linc01093', fx0:1617, fx1:2019, fy0:767, fy1:1151, x0:1619, x1:2006, y0:1145, y1:767, fpr:rocFFpr, tpr:rocFTpr});

drawViolin({name:'violin-dio3os', fx0:155, fx1:560, fy0:1282, fy1:1740, y0:1727, k:79, hw:40, ticks:violinGTicks, cx:[217,310,404,498], data:violinG, med:violinGMedian, q1:violinGQ1, q3:violinGQ3});
drawViolin({name:'violin-linc01554', fx0:876, fx1:1270, fy0:1282, fy1:1740, y0:1727, k:41.3, hw:38, ticks:violinHTicks, cx:[936,1027,1118,1209], data:violinH, med:violinHMedian, q1:violinHQ1, q3:violinHQ3});
drawViolin({name:'violin-linc01093', fx0:1613, fx1:2010, fy0:1272, fy1:1740, y0:1725, k:67.5, hw:38, ticks:violinITicks, cx:[1675,1765,1856,1948], data:violinI, med:violinIMedian, q1:violinIQ1, q3:violinIQ3});

drawKM({name:'km-dfs-dio3os', fx0:163, fx1:595, fy0:1925, fy1:2393, x0:163, x120:567, y0:2377, y1:1943, xlab:2432, low:kmJLow, high:kmJHigh, ci:kmJCI, lowC:kmJLowCensor, highC:kmJHighCensor});
drawKM({name:'km-dfs-linc01554', fx0:876, fx1:1308, fy0:1925, fy1:2391, x0:878, x120:1280, y0:2379, y1:1946, xlab:2433, low:kmKLow, high:kmKHigh, ci:kmKCI, lowC:kmKLowCensor, highC:kmKHighCensor});
drawKM({name:'km-dfs-linc01093', fx0:1596, fx1:2023, fy0:1925, fy1:2391, x0:1598, x120:1993, y0:2377, y1:1946, xlab:2433, low:kmLLow, high:kmLHigh, ci:kmLCI, lowC:kmLLowCensor, highC:kmLHighCensor});
drawKM({name:'km-os-dio3os', fx0:162, fx1:593, fy0:2557, fy1:3023, x0:163, x120:565, y0:3005, y1:2575, xlab:3060, low:kmMLow, high:kmMHigh, ci:kmMCI, lowC:kmMLowCensor, highC:kmMHighCensor});
drawKM({name:'km-os-linc01554', fx0:874, fx1:1297, fy0:2559, fy1:3024, x0:874, x120:1271, y0:3005, y1:2575, xlab:3060, low:kmNLow, high:kmNHigh, ci:kmNCI, lowC:kmNLowCensor, highC:kmNHighCensor});
drawKM({name:'km-os-linc01093', fx0:1593, fx1:2014, fy0:2557, fy1:3023, x0:1595, x120:1993, y0:3005, y1:2575, xlab:3060, low:kmOLow, high:kmOHigh, ci:kmOCI, lowC:kmOLowCensor, highC:kmOHighCensor});
</script>
</body></html>
